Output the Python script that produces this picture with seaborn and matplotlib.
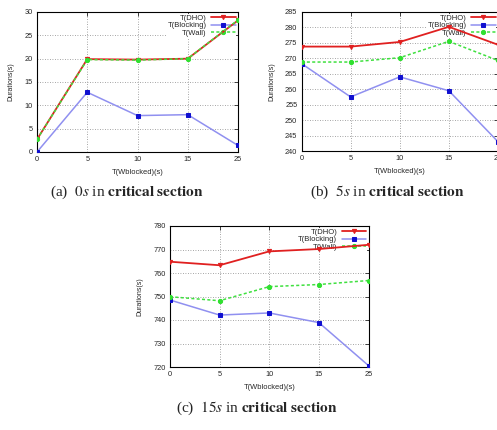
import matplotlib
matplotlib.use("Agg")
import matplotlib.pyplot as plt
import numpy as np
import seaborn as sns

T_WBLOCKED = ["0", "5", "10", "15", "25"]

# (a) 0s in critical section
A_DHO = [2.7, 19.9, 19.8, 20.0, 28.2]
A_BLOCKING = [0.0, 12.8, 7.8, 8.0, 1.4]
A_WALL = [2.7, 19.8, 19.7, 20.0, 28.3]

# (b) 5s in critical section
B_DHO = [273.8, 273.8, 275.3, 280.2, 274.4]
B_BLOCKING = [268.3, 257.5, 264.0, 259.5, 243.0]
B_WALL = [268.8, 268.8, 270.2, 275.5, 269.3]

# (c) 15s in critical section
C_DHO = [764.8, 763.3, 769.2, 770.2, 772.0]
C_BLOCKING = [748.5, 742.1, 743.0, 738.9, 720.6]
C_WALL = [749.9, 748.2, 754.2, 755.1, 756.8]

sns.set_style("white")
plt.rcParams["font.family"] = ["Liberation Sans", "DejaVu Sans"]
plt.rcParams["mathtext.fontset"] = "stix"

W, H = 497, 430
fig = plt.figure(figsize=(W / 100, H / 100), dpi=100)


def panel(rect, dho, blocking, wall, yticks):
    ax = fig.add_axes(rect)
    x = np.arange(len(T_WBLOCKED))
    sns.lineplot(x=x, y=dho, color="#e02020", lw=1.3, marker="v", ms=3,
                 mec="#e02020", label="T(DHO)", ax=ax, zorder=3)
    sns.lineplot(x=x, y=blocking, color="#9090f0", lw=1.1, marker="s", ms=3.5,
                 mfc="#1010d0", mec="#1010d0", label="T(Blocking)", ax=ax, zorder=3)
    sns.lineplot(x=x, y=wall, color="#40e040", lw=1.1, ls=(0, (2, 1.5)), marker="o", ms=3,
                 mfc="#30e030", mec="#30e030", label="T(Wall)", ax=ax, zorder=3)
    ax.set_xlim(0, len(T_WBLOCKED) - 1)
    ax.set_xticks(x)
    ax.set_xticklabels(T_WBLOCKED)
    ax.set_ylim(yticks[0], yticks[-1])
    ax.set_yticks(yticks)
    ax.tick_params(direction="in", length=3, width=0.6, labelsize=5.3,
                   top=True, right=True, pad=3)
    ax.grid(True, color="#888888", lw=0.6, ls=(0, (1, 2)))
    for s in ax.spines.values():
        s.set_color("black")
        s.set_linewidth(0.8)
    ax.set_xlabel("T(Wblocked)(s)", fontsize=5.4, labelpad=4)
    ax.set_ylabel("Durations(s)", fontsize=5.0, labelpad=7)
    leg = ax.legend(loc="upper right", markerfirst=False, fontsize=5.5, frameon=True,
                    framealpha=1, edgecolor="none", facecolor="white", fancybox=False,
                    handlelength=3.2, handletextpad=0.6, labelspacing=0.05,
                    borderpad=0.1, borderaxespad=0.2)
    leg.set_zorder(2)
    return ax


panel([37 / W, 1 - 152 / H, 201 / W, 140 / H], A_DHO, A_BLOCKING, A_WALL,
      np.arange(0, 31, 5))
panel([301.5 / W, 1 - 151 / H, 196.5 / W, 139 / H], B_DHO, B_BLOCKING, B_WALL,
      np.arange(240, 286, 5))
panel([170 / W, 1 - 367 / H, 198.5 / W, 141 / H], C_DHO, C_BLOCKING, C_WALL,
      np.arange(720, 781, 10))

cap = dict(ha="center", va="center", fontsize=11, family="Liberation Serif")
fig.text(127 / W, 1 - 192 / H, r"(a)  $0s$ in $\mathbf{critical\ section}$", **cap)
fig.text(387 / W, 1 - 192 / H, r"(b)  $5s$ in $\mathbf{critical\ section}$", **cap)
fig.text(257 / W, 1 - 408 / H, r"(c)  $15s$ in $\mathbf{critical\ section}$", **cap)

fig.savefig("out.png", dpi=100)
